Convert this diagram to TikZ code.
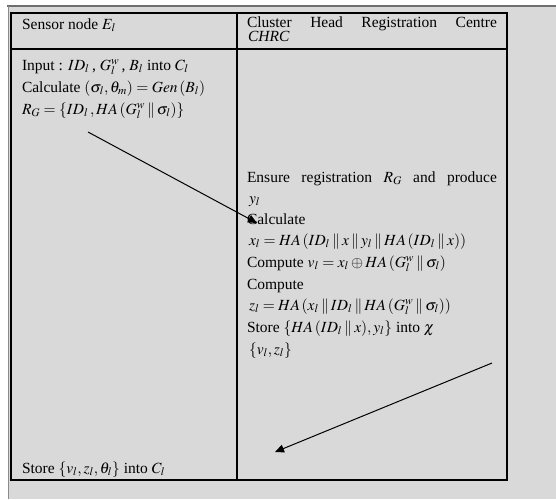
\documentclass[tikz,border=0pt]{standalone}
\usepackage{mathptmx}
\usepackage[no-math]{fontspec}
\setmainfont{Liberation Serif}
\usepackage{tikz}
\usetikzlibrary{arrows.meta}
\definecolor{pagegray}{RGB}{217,217,217}
\definecolor{rulegray}{RGB}{110,110,110}
\newcommand{\cc}{\mathbin{\|}}

\begin{document}
\begin{tikzpicture}[
  x=1pt, y=-1pt,
  font=\fontsize{15.5}{18}\selectfont,
  txt/.style={anchor=base west, inner sep=0pt, outer sep=0pt},
  frame/.style={line width=1.3pt, black},
  arr/.style={-{Triangle[length=9pt,width=8pt]}, line width=1pt, black},
]
\useasboundingbox (0,0) rectangle (556,499);
% ---- page background ----
\fill[pagegray] (8,6) rectangle (556,499);
\draw[rulegray, line width=1.6pt] (7,6) -- (556,6);
\draw[rulegray!80, line width=0.8pt] (8,6) -- (8,499);
% ---- table ----
\draw[frame] (11,13) rectangle (507,480);
\draw[frame] (237,13) -- (237,480);
\draw[frame] (11,49) -- (507,49);
% ---- header ----
\node[txt] (sn) at (22,29) {Sensor node\ $E_l$};
\node[txt] (ch) at (247,27) {\makebox[250pt][s]{Cluster Head Registration Centre}};
\node[txt] (chrc) at (248,41) {\textit{CHRC}};
% ---- sensor node side ----
\node[txt] (inp) at (22,70) {Input : $ID_l$\,, $G_l^w$\,, $B_l$ into $C_l$};
\node[txt] (gen) at (22,92) {Calculate $(\sigma_l,\theta_m)=Gen\,(B_l)$};
\node[txt] (rg) at (22,114) {$R_G=\{ID_l\,, HA\,(G_l^w\cc\sigma_l)\}$};
\node[txt] (st) at (22,473) {Store $\{v_l,z_l,\theta_l\}$ into $C_l$};
% ---- registration centre side ----
\node[txt] (ens) at (247,182) {\makebox[250pt][s]{Ensure registration $R_G$ and produce}};
\node[txt] (yl) at (249,203) {$y_l$};
\node[txt] (calc) at (247,224) {Calculate};
\node[txt] (xl) at (249,245) {$x_l=HA\,(ID_l\cc x\cc y_l\cc HA\,(ID_l\cc x))$};
\node[txt] (vl) at (247,267) {Compute $v_l=x_l\oplus HA\,(G_l^w\cc\sigma_l)$};
\node[txt] (comp) at (247,289) {Compute};
\node[txt] (zl) at (249,310) {$z_l=HA\,(x_l\cc ID_l\cc HA\,(G_l^w\cc\sigma_l))$};
\node[txt] (sto) at (247,332) {Store $\{HA\,(ID_l\cc x), y_l\}$ into $\chi$};
\node[txt] (vz) at (249,354) {$\{v_l,z_l\}$};
% ---- messages ----
\coordinate (m1s) at (88,132);
\coordinate (m1e) at (257,223);
\coordinate (m2s) at (492,363);
\coordinate (m2e) at (275,452);
\draw[arr] (m1s) -- (m1e);
\draw[arr] (m2s) -- (m2e);
\end{tikzpicture}
\end{document}
